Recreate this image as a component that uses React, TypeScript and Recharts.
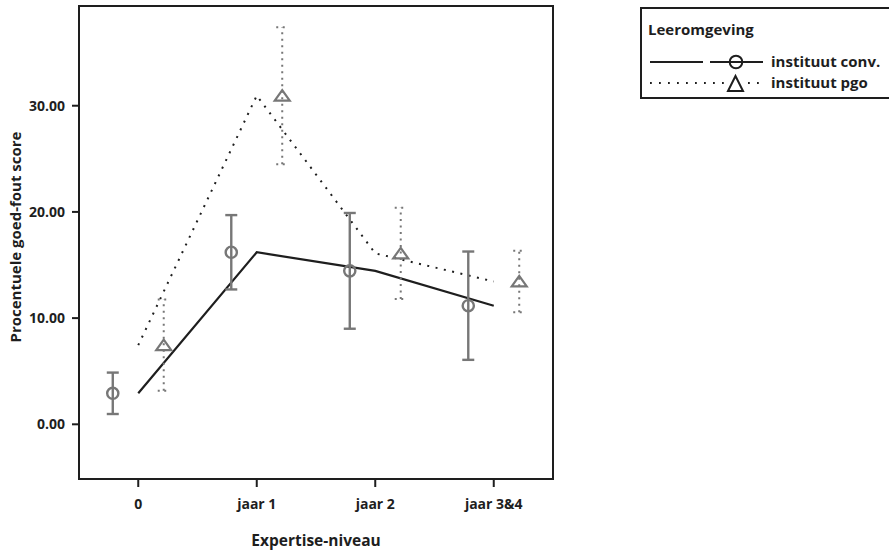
import React from "react";
import {
  ComposedChart,
  Line,
  Scatter,
  ErrorBar,
  XAxis,
  YAxis,
  ReferenceArea,
  Legend,
  Label,
} from "recharts";

// ---- data ----
const categories = ["0", "jaar 1", "jaar 2", "jaar 3&4"];
const seriesNames = ["instituut conv.", "instituut pgo"];
const legendTitle = "Leeromgeving";
const xTitle = "Expertise-niveau";
const yTitle = "Procentuele goed-fout score";

// group means
const convMeans = [2.92, 16.2, 14.45, 11.17];
const pgoMeans = [7.45, 30.95, 16.1, 13.45];
// half width of the error bars
const convErr = [1.95, 3.5, 5.45, 5.1];
const pgoErr = [4.3, 6.45, 4.3, 2.9];

const yTicks = [0, 10, 20, 30];
const yDomain = [-5.15, 39.39];
const xDomain = [-0.5, 3.5];
const xTicks = [0, 1, 2, 3];

// ---- tables built from the arrays ----
const MARK_SHIFT = 0.215;
const lineTable = categories.map((c, i) => ({ x: i, conv: convMeans[i], pgo: pgoMeans[i] }));
const convPoints = categories.map((c, i) => ({ x: i - MARK_SHIFT, y: convMeans[i], err: convErr[i] }));
const pgoPoints = categories.map((c, i) => ({ x: i + MARK_SHIFT, y: pgoMeans[i], err: pgoErr[i] }));

const FONT = "'Open Sans', 'DejaVu Sans', sans-serif";
const DARK = "#1e1e1e";
const GREY = "#777777";

const CircleMark = (props: any) => {
  const { cx, cy } = props;
  if (cx == null || cy == null) return null;
  return <circle cx={cx} cy={cy} r={5.6} fill="none" stroke={GREY} strokeWidth={2.4} />;
};

const TriangleMark = (props: any) => {
  const { cx, cy } = props;
  if (cx == null || cy == null) return null;
  const pts = `${cx},${cy - 5.5} ${cx - 7.5},${cy + 5} ${cx + 7.5},${cy + 5}`;
  return <polygon points={pts} fill="none" stroke={GREY} strokeWidth={2.2} strokeLinejoin="miter" />;
};

const renderLegend = () => (
  <svg width={260} height={94} style={{ display: "block", overflow: "visible" }}>
    <rect x={1} y={1} width={270} height={90} fill="#fff" stroke={DARK} strokeWidth={2} />
    <text x={8} y={28} fontFamily={FONT} fontWeight={700} fontSize={15} fill={DARK}>
      {legendTitle}
    </text>
    {/* row 1 */}
    <line x1={10} y1={55} x2={63} y2={55} stroke={DARK} strokeWidth={2} />
    <line x1={70} y1={55} x2={123} y2={55} stroke={DARK} strokeWidth={2} />
    <circle cx={96} cy={55} r={6.3} fill="none" stroke={DARK} strokeWidth={2} />
    <text x={131} y={60} fontFamily={FONT} fontWeight={700} fontSize={15} fill={DARK}>
      {seriesNames[0]}
    </text>
    {/* row 2 */}
    <line x1={10} y1={76} x2={88} y2={76} stroke={DARK} strokeWidth={1.8} strokeDasharray="1.8 7.2" />
    <line x1={108} y1={76} x2={123} y2={76} stroke={DARK} strokeWidth={1.8} strokeDasharray="1.8 7.2" />
    <polygon points="95.5,69 88,84 103,84" fill="#fff" stroke={DARK} strokeWidth={2} />
    <text x={131} y={81} fontFamily={FONT} fontWeight={700} fontSize={15} fill={DARK}>
      {seriesNames[1]}
    </text>
  </svg>
);

const renderYTitle = () => (
  <text
    x={17}
    y={237}
    transform="rotate(-90 17 237)"
    textAnchor="middle"
    dominantBaseline="middle"
    fontFamily={FONT}
    fontWeight={700}
    fontSize={15}
    fill={DARK}
  >
    {yTitle}
  </text>
);

const renderXTitle = () => (
  <text
    x={316}
    y={546}
    textAnchor="middle"
    fontFamily={FONT}
    fontWeight={700}
    fontSize={15.5}
    fill={DARK}
  >
    {xTitle}
  </text>
);

const tickStyle = { fontFamily: FONT, fontWeight: 700, fontSize: 14, fill: DARK };

export default function App() {
  return (
    <div style={{ position: "absolute", left: 0, top: 0, width: 889, height: 552, background: "#fff" }}>
      <ComposedChart
        width={889}
        height={552}
        data={lineTable}
        margin={{ top: 6, right: 336, bottom: 0, left: 0 }}
      >
        <XAxis
          type="number"
          dataKey="x"
          domain={xDomain}
          ticks={xTicks}
          tickFormatter={(v: number) => categories[v] ?? ""}
          height={73}
          tickSize={8}
          tickMargin={12}
          tick={tickStyle}
          stroke={DARK}
          strokeWidth={2}
          allowDataOverflow
        >
          <Label content={renderXTitle} />
        </XAxis>
        <YAxis
          type="number"
          dataKey="y"
          domain={yDomain}
          ticks={yTicks}
          tickFormatter={(v: number) => v.toFixed(2)}
          width={79}
          tickSize={7}
          tickMargin={7}
          tick={tickStyle}
          stroke={DARK}
          strokeWidth={2}
          allowDataOverflow
        >
          <Label content={renderYTitle} />
        </YAxis>
        <ReferenceArea
          x1={xDomain[0]}
          x2={xDomain[1]}
          y1={yDomain[0]}
          y2={yDomain[1]}
          fill="none"
          fillOpacity={0}
          stroke={DARK}
          strokeWidth={2}
          ifOverflow="visible"
        />
        <Line
          dataKey="conv"
          name={seriesNames[0]}
          type="linear"
          stroke={DARK}
          strokeWidth={2.2}
          dot={false}
          activeDot={false}
          isAnimationActive={false}
        />
        <Line
          dataKey="pgo"
          name={seriesNames[1]}
          type="linear"
          stroke={DARK}
          strokeWidth={2}
          strokeDasharray="2 6.5"
          strokeLinejoin="round"
          dot={false}
          activeDot={false}
          isAnimationActive={false}
        />
        <Scatter data={convPoints} shape={CircleMark} legendType="none" isAnimationActive={false}>
          <ErrorBar dataKey="err" direction="y" width={6} stroke={GREY} strokeWidth={2.4} />
        </Scatter>
        <Scatter data={pgoPoints} shape={TriangleMark} legendType="none" isAnimationActive={false}>
          <ErrorBar
            dataKey="err"
            direction="y"
            width={6}
            stroke={GREY}
            strokeWidth={2}
            strokeDasharray="2 4.5"
          />
        </Scatter>
        <Legend
          layout="horizontal"
          verticalAlign="middle"
          align="center"
          content={renderLegend}
          wrapperStyle={{ position: "absolute", left: 640, top: 7, width: 260, height: 94 }}
        />
      </ComposedChart>
    </div>
  );
}
